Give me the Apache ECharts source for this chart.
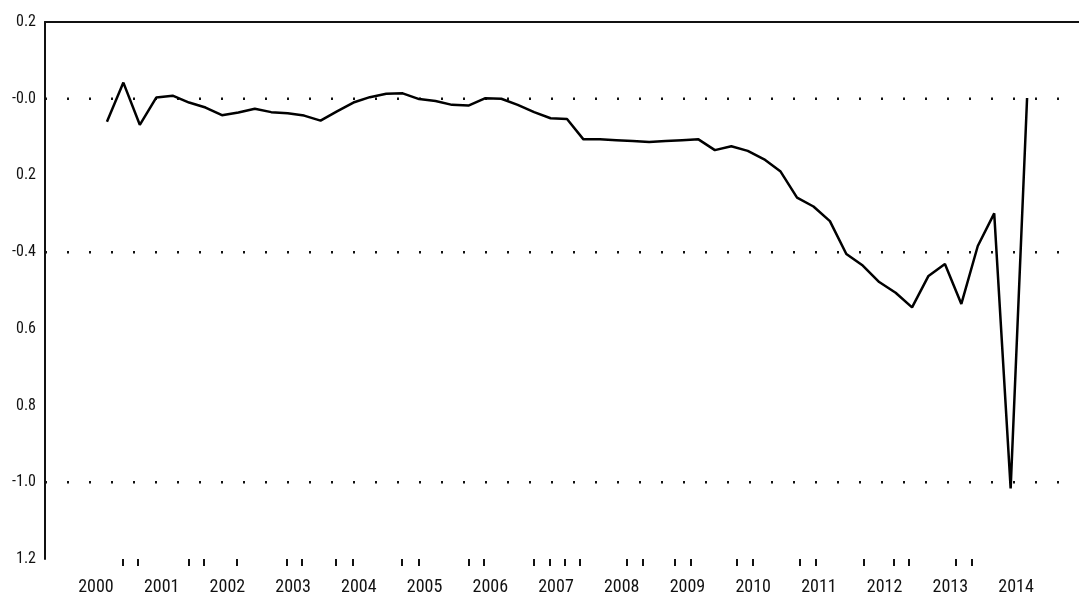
<!DOCTYPE html>
<html>
<head>
<meta charset="utf-8">
<script src="https://cdn.jsdelivr.net/npm/echarts@6/dist/echarts.min.js"></script>
<style>html,body{margin:0;padding:0;background:#fff}#c{width:1079px;height:599px}</style>
</head>
<body>
<div id="c"></div>
<script>
// Quarterly series (index 0..56)
var seriesValues = [
  -0.060, 0.042, -0.068, 0.003, 0.008, -0.010, -0.023, -0.043, -0.036, -0.026,
  -0.035, -0.038, -0.044, -0.057, -0.033, -0.010, 0.004, 0.013, 0.014, -0.001,
  -0.006, -0.016, -0.018, 0.001, 0.000, -0.016, -0.035, -0.051, -0.053, -0.106,
  -0.106, -0.108, -0.110, -0.113, -0.110, -0.108, -0.106, -0.134, -0.124, -0.136,
  -0.158, -0.190, -0.258, -0.281, -0.319, -0.405, -0.435, -0.478, -0.506, -0.544,
  -0.462, -0.431, -0.535, -0.384, -0.299, -1.016, 0.002
];
var yearLabels = ['2000','2001','2002','2003','2004','2005','2006','2007','2008','2009','2010','2011','2012','2013','2014'];
var yTickLabels = ['1.2','-1.0','0.8','0.6','-0.4','0.2','-0.0','0.2'];
var dottedLineValues = [0.0, -0.4, -1.0];
var xTickPositions = [0.96, 1.9, 4.95, 5.9, 7.9, 10.94, 11.88, 13.94, 14.93, 17.94, 18.95, 21.99, 22.96,
  25.98, 26.92, 27.88, 28.79, 31.63, 32.6, 34.57, 35.53, 38.36, 39.3, 42.18, 43.14, 46.04, 47.87, 48.82, 51.68, 52.63];

var X_MIN = -3.77, X_MAX = 59.16;
var labelOffset = -0.67; // layout: where the first year label sits, in quarter units
var labelPositions = yearLabels.map(function (_, k) { return labelOffset + 4 * k; });
var lineData = seriesValues.map(function (v, i) { return [i, v]; });
var FONT = "'Roboto Condensed', 'Liberation Sans Narrow', 'Liberation Sans', sans-serif";

var dottedSeries = dottedLineValues.map(function (v) {
  return {
    type: 'line', data: [[X_MIN, v], [X_MAX, v]], symbol: 'none', silent: true, z: 2, clip: false,
    lineStyle: { color: '#111', width: 2.5, type: [2, 20], dashOffset: 0, cap: 'butt' }
  };
});

var chart = echarts.init(document.getElementById('c'));
chart.setOption({
  animation: false,
  backgroundColor: '#fff',
  grid: { left: 45, right: 0, top: 22, bottom: 40, containLabel: false },
  xAxis: [{
    type: 'value', min: X_MIN, max: X_MAX, position: 'bottom',
    axisLine: { show: false, onZero: false },
    splitLine: { show: false },
    axisTick: { show: true, customValues: xTickPositions, length: 7, lineStyle: { color: '#111', width: 2 } },
    axisLabel: {
      customValues: labelPositions, margin: 19, color: '#111',
      fontFamily: FONT, fontSize: 18,
      formatter: function (v) { return yearLabels[Math.round((v - labelOffset) / 4)] || ''; }
    }
  }, {
    type: 'value', min: X_MIN, max: X_MAX, position: 'top',
    axisLine: { show: true, onZero: false, lineStyle: { color: '#111', width: 2 } },
    axisTick: { show: false }, axisLabel: { show: false }, splitLine: { show: false }
  }],
  yAxis: {
    type: 'value', min: -1.2, max: 0.2, interval: 0.2,
    axisLine: { show: true, onZero: false, lineStyle: { color: '#111', width: 2 } },
    axisTick: { show: false },
    splitLine: { show: false },
    axisLabel: {
      margin: 9, color: '#111', fontFamily: FONT, fontSize: 16,
      formatter: function (v, idx) { return yTickLabels[idx]; }
    }
  },
  series: dottedSeries.concat([{
    type: 'line', data: lineData, xAxisIndex: 0, symbol: 'none',
    lineStyle: { color: '#000', width: 2.5 },
    z: 3
  }])
});
</script>
</body>
</html>
